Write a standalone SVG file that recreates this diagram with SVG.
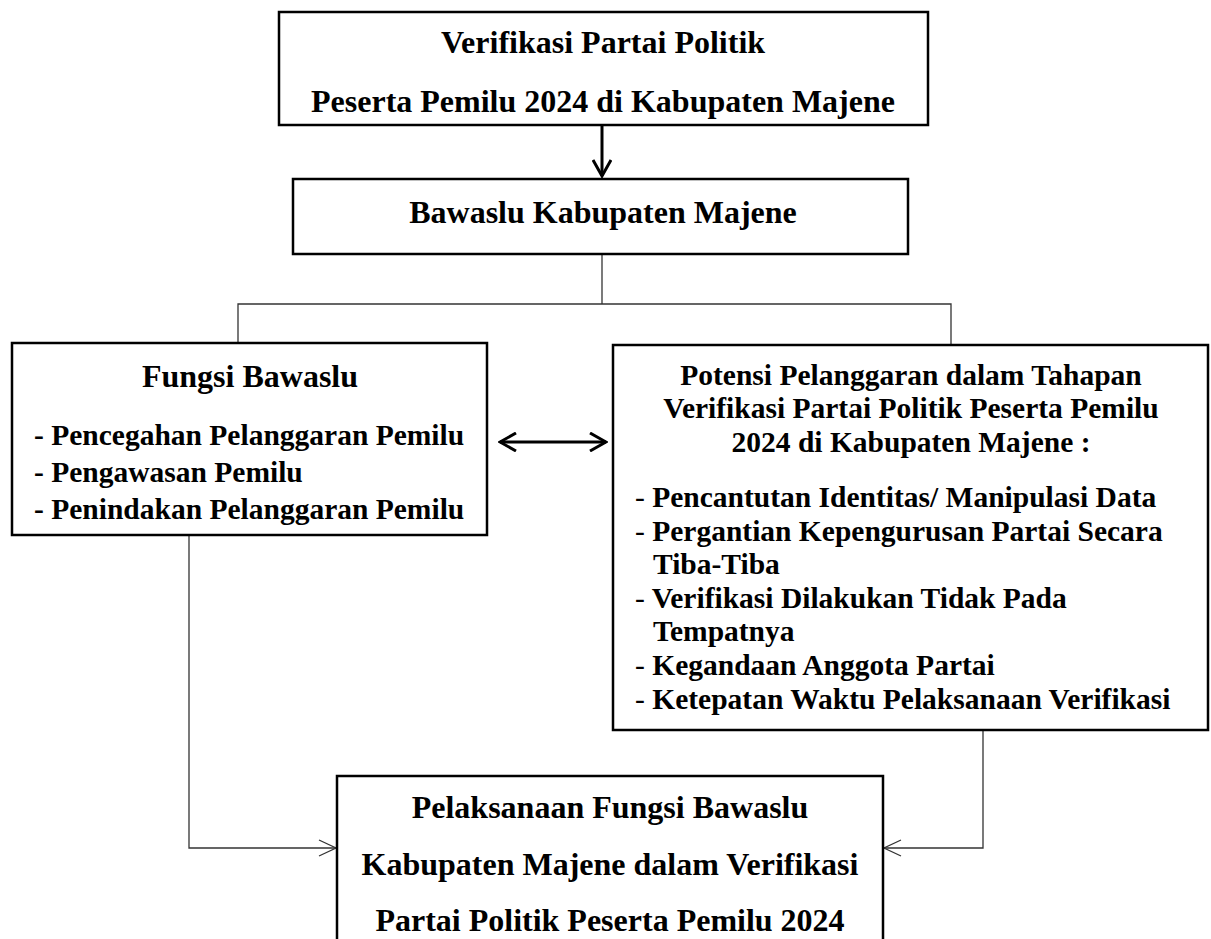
<svg xmlns="http://www.w3.org/2000/svg" width="1211" height="939" viewBox="0 0 1211 939">
<style>
  .box { fill: #ffffff; stroke: #000000; stroke-width: 2.5; }
  .t { font-family: "Liberation Serif", "Times New Roman", serif; font-weight: bold; font-size: 32px; fill: #000000; }
  .m { font-size: 29.5px; }
  .c { text-anchor: middle; }
  .dash { font-weight: normal; }
  .thin { fill: none; stroke: #333333; stroke-width: 1.3; }
  .thick { fill: none; stroke: #000000; stroke-width: 3; }
</style>
<defs>
  <marker id="openThick" viewBox="0 0 20 20" refX="18" refY="10" markerWidth="20" markerHeight="20" markerUnits="userSpaceOnUse" orient="auto-start-reverse">
    <path d="M2,1 L18,10 L2,19" fill="none" stroke="#000000" stroke-width="3"/>
  </marker>
  <marker id="openThin" viewBox="0 0 20 20" refX="19" refY="10" markerWidth="20" markerHeight="20" markerUnits="userSpaceOnUse" orient="auto">
    <path d="M2,2 L19,10 L2,18" fill="none" stroke="#333333" stroke-width="1.3"/>
  </marker>
</defs>

<g id="connectors">
  <line class="thick" x1="602" y1="125" x2="602" y2="176" marker-end="url(#openThick)"/>
  <polyline class="thin" points="602,254 602,304"/>
  <polyline class="thin" points="238,343 238,304 951,304 951,345"/>
  <line class="thick" x1="500" y1="442" x2="606" y2="442" marker-start="url(#openThick)" marker-end="url(#openThick)"/>
  <polyline class="thin" points="189,535 189,848 336,848" marker-end="url(#openThin)"/>
  <polyline class="thin" points="983,730 983,848 884,848" marker-end="url(#openThin)"/>
</g>

<g id="node-verifikasi">
  <rect class="box" x="279" y="12" width="649" height="113"/>
  <text class="t c" x="603" y="53">Verifikasi Partai Politik</text>
  <text class="t c" x="603" y="112">Peserta Pemilu 2024 di Kabupaten Majene</text>
</g>

<g id="node-bawaslu">
  <rect class="box" x="293" y="179" width="615" height="75"/>
  <text class="t c" x="603" y="223">Bawaslu Kabupaten Majene</text>
</g>

<g id="node-fungsi">
  <rect class="box" x="12" y="343" width="475" height="192"/>
  <text class="t c" x="250" y="387">Fungsi Bawaslu</text>
  <text class="t m" x="34" y="445">- Pencegahan Pelanggaran Pemilu</text>
  <text class="t m" x="34" y="482">- Pengawasan Pemilu</text>
  <text class="t m" x="34" y="519">- Penindakan Pelanggaran Pemilu</text>
</g>

<g id="node-potensi">
  <rect class="box" x="613" y="345" width="595" height="385"/>
  <text class="t m c" x="911" y="385">Potensi Pelanggaran dalam Tahapan</text>
  <text class="t m c" x="911" y="418">Verifikasi Partai Politik Peserta Pemilu</text>
  <text class="t m c" x="911" y="452">2024 di Kabupaten Majene :</text>
  <text class="t m" x="635" y="507"><tspan class="dash">-</tspan> Pencantutan Identitas/ Manipulasi Data</text>
  <text class="t m" x="635" y="541"><tspan class="dash">-</tspan> Pergantian Kepengurusan Partai Secara</text>
  <text class="t m" x="653" y="574">Tiba-Tiba</text>
  <text class="t m" x="635" y="608"><tspan class="dash">-</tspan> Verifikasi Dilakukan Tidak Pada</text>
  <text class="t m" x="653" y="641">Tempatnya</text>
  <text class="t m" x="635" y="675"><tspan class="dash">-</tspan> Kegandaan Anggota Partai</text>
  <text class="t m" x="635" y="709"><tspan class="dash">-</tspan> Ketepatan Waktu Pelaksanaan Verifikasi</text>
</g>

<g id="node-pelaksanaan">
  <path class="box" d="M337,945 L337,776 L883,776 L883,945"/>
  <text class="t c" x="610" y="818">Pelaksanaan Fungsi Bawaslu</text>
  <text class="t c" x="610" y="875">Kabupaten Majene dalam Verifikasi</text>
  <text class="t c" x="610" y="931">Partai Politik Peserta Pemilu 2024</text>
</g>
</svg>
